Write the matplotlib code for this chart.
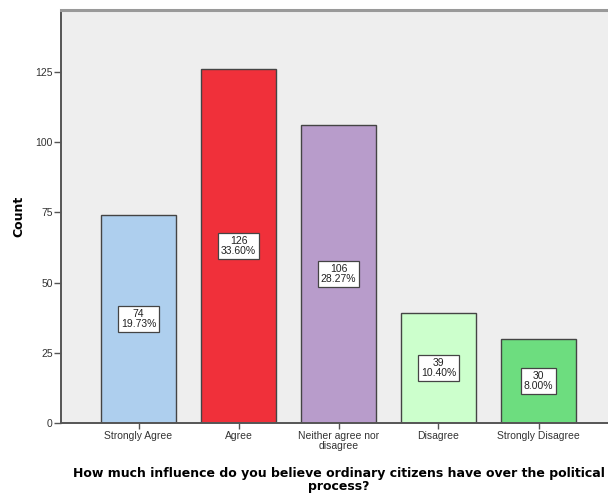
import numpy as np
import matplotlib.pyplot as plt

categories = ["Strongly Agree", "Agree", "Neither agree nor\ndisagree",
              "Disagree", "Strongly Disagree"]
counts = [74, 126, 106, 39, 30]
percents = ["19.73%", "33.60%", "28.27%", "10.40%", "8.00%"]
colors = ["#aecfee", "#f0303a", "#b89ccb", "#ccffcc", "#6ddd7f"]
y_ticks = [0, 25, 50, 75, 100, 125]

plt.rcParams['font.family'] = ['Liberation Sans', 'DejaVu Sans']

fig = plt.figure(figsize=(6.08, 4.95), dpi=100)
# plot area runs past the right edge of the figure
ax = fig.add_axes([61 / 608, 72 / 495, 555 / 608, 413 / 495])
ax.set_facecolor("#eeeeee")

x = np.arange(len(categories))
ax.bar(x, counts, width=0.75, color=colors, edgecolor="#444444", linewidth=1.0, zorder=2)

for xi, c, p in zip(x, counts, percents):
    ax.text(xi, c / 2, f"{c}\n{p}", ha="center", va="center", fontsize=7.5,
            color="#222222", linespacing=0.95, zorder=3,
            bbox=dict(boxstyle="square,pad=0.3", fc="white", ec="#444444", lw=0.9))

ax.set_xlim(-0.775, 4.775)
ax.set_ylim(0, 147)
ax.set_yticks(y_ticks)
ax.set_xticks(x)
ax.set_xticklabels(categories, fontsize=7.5, color="#333333", linespacing=0.9)
ax.tick_params(axis="y", labelsize=7.5, labelcolor="#333333", length=5, width=1,
               color="#555555", pad=1)
ax.tick_params(axis="x", length=4, width=1, color="#555555", pad=2)

for side in ["left", "bottom"]:
    ax.spines[side].set_color("#555555")
    ax.spines[side].set_linewidth(1.4)
ax.spines["top"].set_color("#999999")
ax.spines["top"].set_linewidth(2.2)
ax.spines["right"].set_visible(False)

ax.set_ylabel("Count", fontsize=9, fontweight="bold", family="DejaVu Sans", labelpad=7)
ax.set_xlabel("How much influence do you believe ordinary citizens have over the political\nprocess?",
              fontsize=9, fontweight="bold", family="DejaVu Sans", labelpad=12,
              linespacing=0.95)

fig.savefig("out.png", dpi=100)
